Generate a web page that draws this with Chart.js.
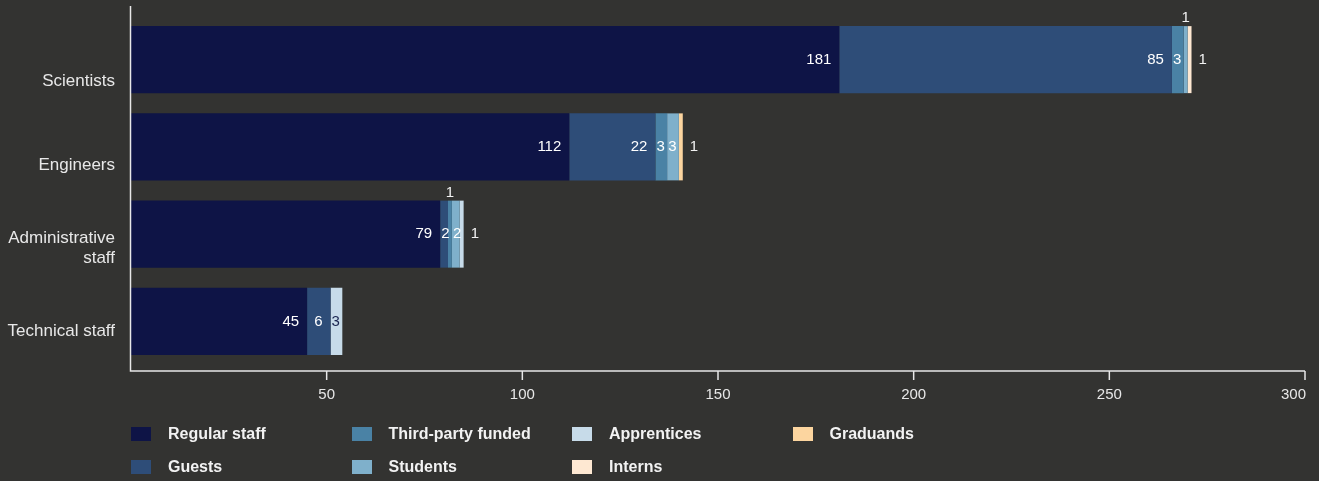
<!DOCTYPE html>
<html>
<head>
<meta charset="utf-8">
<script src="https://cdn.jsdelivr.net/npm/chart.js@4/dist/chart.umd.min.js"></script>
<style>
  html, body { margin: 0; padding: 0; background: #333331; }
  #wrap { position: relative; width: 1319px; height: 481px; }
  #legend { position: absolute; left: 0; top: 0; width: 1319px; height: 481px; pointer-events: none;
            font-family: "Liberation Sans", Arial, sans-serif; font-weight: bold; font-size: 16px; color: #f2f2f2; }
  .item { position: absolute; display: flex; align-items: center; height: 20px; }
  .sw { width: 20px; height: 14px; margin-right: 17px; }
</style>
</head>
<body>
<div id="wrap">
  <canvas id="chart" width="1319" height="481"></canvas>
  <div id="legend"></div>
</div>
<script>
// Datos
const categories = ['Scientists', 'Engineers', ['Administrative', 'staff'], 'Technical staff'];
const regularStaff = [181, 112, 79, 45];
const guests = [85, 22, 2, 6];
const thirdParty = [3, 3, 1, 0];
const students = [1, 3, 2, 0];
const apprentices = [0, 0, 1, 3];
const interns = [1, 0, 0, 0];
const graduands = [0, 1, 0, 0];
const xTicks = [50, 100, 150, 200, 250, 300];

const series = [
  { label: 'Regular staff', data: regularStaff, color: '#0e1446', text: '#ffffff' },
  { label: 'Guests', data: guests, color: '#2e4d78', text: '#ffffff' },
  { label: 'Third-party funded', data: thirdParty, color: '#4a82a5', text: '#ffffff' },
  { label: 'Students', data: students, color: '#7fb0cb', text: '#ffffff' },
  { label: 'Apprentices', data: apprentices, color: '#c7dbe9', text: '#1a2550' },
  { label: 'Interns', data: interns, color: '#fee8d2', text: '#ffffff' },
  { label: 'Graduands', data: graduands, color: '#fcd59f', text: '#ffffff' }
];

const FONT = '15px "Liberation Sans", Arial, sans-serif';
const CAT_FONT = '17px "Liberation Sans", Arial, sans-serif';
const AXIS = '#e8e8e8';

// Ejes, etiquetas y valores dibujados a mano
const decorations = {
  id: 'decorations',
  afterDatasetsDraw(chart) {
    const ctx = chart.ctx;
    const area = chart.chartArea;
    const xs = chart.scales.x;
    const axisY = area.bottom + 6;
    ctx.save();

    // líneas de ejes
    ctx.strokeStyle = AXIS;
    ctx.lineWidth = 1.5;
    ctx.beginPath();
    ctx.moveTo(area.left - 0.5, 6);
    ctx.lineTo(area.left - 0.5, axisY);
    ctx.lineTo(xs.getPixelForValue(300), axisY);
    ctx.stroke();

    // marcas y etiquetas del eje x
    ctx.font = FONT;
    ctx.fillStyle = AXIS;
    ctx.textBaseline = 'middle';
    xTicks.forEach(function (v, i) {
      const px = xs.getPixelForValue(v);
      ctx.beginPath();
      ctx.moveTo(px, axisY);
      ctx.lineTo(px, axisY + 9);
      ctx.stroke();
      ctx.textAlign = i === xTicks.length - 1 ? 'right' : 'center';
      ctx.fillText(String(v), i === xTicks.length - 1 ? px + 1 : px, axisY + 24);
    });

    // etiquetas de categoría
    ctx.font = CAT_FONT;
    ctx.textAlign = 'right';
    const bandTop = area.top + 24;
    const bandH = (axisY + 2 - bandTop) / categories.length;
    categories.forEach(function (c, i) {
      const lines = Array.isArray(c) ? c : [c];
      const cy = bandTop + bandH * (i + 0.5);
      lines.forEach(function (line, j) {
        ctx.fillText(line, area.left - 16, cy + (j - (lines.length - 1) / 2) * 20);
      });
    });

    // valores de cada segmento
    ctx.font = FONT;
    categories.forEach(function (c, idx) {
      let last = -1;
      series.forEach(function (s, d) { if (s.data[idx] > 0) last = d; });
      series.forEach(function (s, d) {
        const v = s.data[idx];
        if (!v) return;
        const el = chart.getDatasetMeta(d).data[idx];
        const start = el.base, end = el.x;
        const top = el.y - el.height / 2;
        const txt = String(v);
        const w = ctx.measureText(txt).width;
        if (v === 1 && d === last) {
          ctx.fillStyle = '#f2f2f2';
          ctx.textAlign = 'left';
          ctx.textBaseline = 'middle';
          ctx.fillText(txt, end + 7, el.y);
        } else if (v === 1) {
          ctx.fillStyle = '#f2f2f2';
          ctx.textAlign = 'center';
          ctx.textBaseline = 'alphabetic';
          ctx.fillText(txt, (start + end) / 2, top - 4);
        } else {
          ctx.fillStyle = s.text;
          ctx.textAlign = 'right';
          ctx.textBaseline = 'middle';
          ctx.fillText(txt, Math.max(end - 8, start + w + 1), el.y);
        }
      });
    });
    ctx.restore();
  }
};

const ctx = document.getElementById('chart').getContext('2d');
new Chart(ctx, {
  type: 'bar',
  data: {
    labels: categories,
    datasets: series.map(function (s) {
      return {
        label: s.label,
        data: s.data,
        backgroundColor: s.color,
        borderWidth: 0,
        barPercentage: 0.768,
        categoryPercentage: 1
      };
    })
  },
  options: {
    indexAxis: 'y',
    responsive: false,
    animation: false,
    events: [],
    layout: { padding: { top: 16, right: 14, left: 0, bottom: 0 } },
    plugins: { legend: { display: false }, tooltip: { enabled: false } },
    scales: {
      x: {
        stacked: true,
        min: 0,
        max: 300,
        grid: { display: false, drawTicks: false },
        border: { display: false },
        ticks: { display: false },
        afterFit: function (scale) { scale.height = 116; }
      },
      y: {
        stacked: true,
        grid: { display: false, drawTicks: false },
        border: { display: false },
        ticks: { display: false },
        afterFit: function (scale) { scale.width = 131; }
      }
    }
  },
  plugins: [decorations]
});

// Leyenda en cuadrícula (por columnas)
const legend = document.getElementById('legend');
series.forEach(function (s, i) {
  const col = Math.floor(i / 2), row = i % 2;
  const div = document.createElement('div');
  div.className = 'item';
  div.style.left = (131 + col * 220.5) + 'px';
  div.style.top = (424 + row * 33) + 'px';
  div.innerHTML = '<span class="sw" style="background:' + s.color + '"></span><span></span>';
  div.lastChild.textContent = s.label;
  legend.appendChild(div);
});
</script>
</body>
</html>
